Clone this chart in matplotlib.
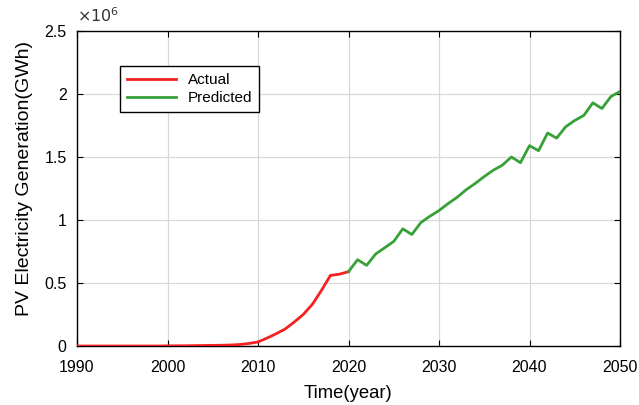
import matplotlib
matplotlib.use("Agg")
import matplotlib.pyplot as plt
from matplotlib.ticker import FuncFormatter, MultipleLocator

plt.rcParams['font.family'] = ['Liberation Sans', 'DejaVu Sans']

# Actual PV generation (GWh)
actual_years = list(range(1990, 2021))
actual_gwh = [0, 0, 0, 0, 0, 0, 0, 0, 0, 0,
              1000, 1500, 2000, 3000, 4000, 5000, 6000, 8000, 12000, 20000,
              32000, 63000, 97000, 135000, 190000, 250000, 330000, 440000, 560000, 570000,
              590000]

# Predicted PV generation (GWh)
pred_years = list(range(2020, 2051))
pred_gwh = [590000, 685000, 640000, 730000, 780000, 830000, 930000, 885000, 980000, 1030000,
            1075000, 1130000, 1180000, 1240000, 1290000, 1345000, 1395000, 1435000, 1500000, 1455000,
            1590000, 1550000, 1690000, 1650000, 1740000, 1790000, 1830000, 1930000, 1885000, 1980000,
            2020000]

x_ticks = [1990, 2000, 2010, 2020, 2030, 2040, 2050]
scale = 1e6

fig = plt.figure(figsize=(6.39, 4.05), dpi=100)
ax = fig.add_axes([77/639, 1-346/405, (620-77)/639, (346-31)/405])

ax.plot(actual_years, [v/scale for v in actual_gwh], color='#f52020', lw=2, label='Actual', zorder=3)
ax.plot(pred_years, [v/scale for v in pred_gwh], color='#37a037', lw=2, label='Predicted', zorder=3)

ax.set_xlim(1990, 2050)
ax.set_ylim(0, 2.5)
ax.set_xticks(x_ticks)
ax.yaxis.set_major_locator(MultipleLocator(0.5))
ax.yaxis.set_major_formatter(FuncFormatter(lambda v, p: '%g' % v))
ax.grid(True, color='#d9d9d9', lw=0.9)
ax.set_axisbelow(True)
ax.tick_params(direction='in', length=4, labelsize=11.5, top=True, right=True,
               labeltop=False, labelright=False)
ax.tick_params(axis='x', pad=10)
ax.tick_params(axis='y', pad=7.5)
for s in ax.spines.values():
    s.set_color('black')
    s.set_linewidth(1.0)

ax.set_xlabel('Time(year)', fontsize=13.3, labelpad=7)
ax.set_ylabel('PV Electricity Generation(GWh)', fontsize=14, labelpad=8)
ax.yaxis.label.set_y(0.533)
ax.text(0.0, 1.02, r'$\times10^{6}$', transform=ax.transAxes, fontsize=11.5,
        ha='left', va='bottom', color='#333333')

leg = ax.legend(loc='upper left', bbox_to_anchor=(43/543, 1-(66-31)/315), fontsize=11,
                frameon=True, fancybox=False, edgecolor='black', framealpha=1,
                handlelength=3.2, borderpad=0.45, labelspacing=0.3, borderaxespad=0)
leg.get_frame().set_linewidth(1.0)

fig.savefig('out.png', dpi=100)
